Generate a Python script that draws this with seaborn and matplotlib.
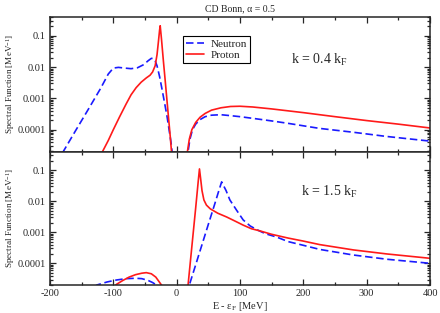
import numpy as np
import pandas as pd
import seaborn as sns
import matplotlib
matplotlib.use("Agg")
import matplotlib.pyplot as plt
from matplotlib.ticker import FixedLocator, MultipleLocator, LogLocator, NullFormatter

# ---- data (E - eF in MeV, spectral function in MeV^-1) ----
# k = 0.4 kF
top_n_hole_E = [-190, -179, -160, -140, -120, -108, -100, -92, -82, -72, -62, -52, -45, -40, -37,
                -34, -31, -27, -23, -19, -15, -12, -9, -6]
top_n_hole_A = [9e-6, 2e-5, 9e-5, 4.3e-4, 2.1e-3, 6e-3, 9.3e-3, 9.8e-3, 9.3e-3, 8.9e-3, 9.5e-3,
                0.012, 0.016, 0.019, 0.019, 0.016, 0.011, 0.005, 1.9e-3, 7e-4, 2.5e-4, 1e-4, 4e-5, 1.2e-5]
top_p_hole_E = [-122, -117, -108, -100, -90, -80, -72, -64, -56, -48, -42, -38, -34, -31, -29,
                -27, -26, -24, -21, -18, -15.5, -13, -10, -7]
top_p_hole_A = [1e-5, 2e-5, 4.5e-5, 1e-4, 2.6e-4, 6.5e-4, 1.3e-3, 2.2e-3, 3.3e-3, 4.5e-3, 5.5e-3,
                7e-3, 0.011, 0.025, 0.06, 0.15, 0.21, 0.08, 0.016, 3.5e-3, 9.5e-4, 2.6e-4, 5.6e-5, 1e-5]
top_n_part_E = [16, 18, 21, 25, 30, 37, 45, 55, 70, 85, 100, 120, 150, 175, 225, 280, 330, 400]
top_n_part_A = [1e-5, 2e-5, 5e-5, 1e-4, 1.5e-4, 2.1e-4, 2.6e-4, 2.9e-4, 3e-4, 2.8e-4, 2.6e-4,
                2.3e-4, 1.9e-4, 1.6e-4, 1.1e-4, 8.2e-5, 6.1e-5, 4.3e-5]
top_p_part_E = [15, 17, 20, 24, 30, 37, 45, 55, 70, 85, 100, 120, 150, 200, 250, 300, 350, 400]
top_p_part_A = [1e-5, 2e-5, 5e-5, 1e-4, 1.7e-4, 2.5e-4, 3.3e-4, 4.2e-4, 5e-4, 5.5e-4, 5.6e-4,
                5.3e-4, 4.6e-4, 3.5e-4, 2.6e-4, 1.95e-4, 1.5e-4, 1.13e-4]

# k = 1.5 kF
bot_n_hole_E = [-130, -126, -110, -95, -80, -65, -55, -45, -38, -32, -28]
bot_n_hole_A = [1.7e-5, 2e-5, 2.5e-5, 2.9e-5, 3.2e-5, 3.3e-5, 3.2e-5, 2.8e-5, 2.4e-5, 2e-5, 1.6e-5]
bot_p_hole_E = [-100, -95, -85, -75, -65, -55, -48, -40, -33, -28, -24, -22]
bot_p_hole_A = [1.6e-5, 2.1e-5, 2.8e-5, 3.6e-5, 4.3e-5, 4.8e-5, 5e-5, 4.6e-5, 3.6e-5, 2.6e-5, 2e-5, 1.5e-5]
bot_n_part_E = [17, 20, 30, 40, 50, 60, 66, 71, 78, 84, 95, 105, 116, 127, 140, 158, 176, 200,
                226, 279, 332, 400]
bot_n_part_A = [1e-5, 2e-5, 8.9e-5, 4e-4, 1.8e-3, 8e-3, 0.02, 0.042, 0.022, 0.011, 5e-3, 2.5e-3,
                1.6e-3, 1.2e-3, 9e-4, 7e-4, 5e-4, 3.8e-4, 2.8e-4, 1.85e-4, 1.35e-4, 1e-4]
bot_p_part_E = [15, 18, 22, 26, 30, 34, 36, 38, 40, 43, 47, 53, 65, 79, 92, 105, 118, 132, 150,
                176, 200, 226, 279, 332, 400]
bot_p_part_A = [1e-5, 2e-5, 1.35e-4, 9e-4, 6e-3, 0.043, 0.11, 0.05, 0.022, 0.011, 7.5e-3, 5.7e-3,
                4.1e-3, 3.1e-3, 2.3e-3, 1.7e-3, 1.3e-3, 1.1e-3, 8.6e-4, 6.5e-4, 5.2e-4, 4e-4,
                2.7e-4, 2e-4, 1.45e-4]

panels = [
    ("k = 0.4 k$_\\mathrm{F}$", [("Neutron", "hole", top_n_hole_E, top_n_hole_A),
                                 ("Neutron", "part", top_n_part_E, top_n_part_A),
                                 ("Proton", "hole", top_p_hole_E, top_p_hole_A),
                                 ("Proton", "part", top_p_part_E, top_p_part_A)]),
    ("k = 1.5 k$_\\mathrm{F}$", [("Neutron", "hole", bot_n_hole_E, bot_n_hole_A),
                                 ("Neutron", "part", bot_n_part_E, bot_n_part_A),
                                 ("Proton", "hole", bot_p_hole_E, bot_p_hole_A),
                                 ("Proton", "part", bot_p_part_E, bot_p_part_A)]),
]

sns.set_style("ticks")
plt.rcParams["font.family"] = ["Liberation Serif", "DejaVu Serif"]
plt.rcParams["mathtext.fontset"] = "custom"
plt.rcParams["mathtext.rm"] = "Liberation Serif"
plt.rcParams["mathtext.it"] = "Liberation Serif:italic"
plt.rcParams["axes.unicode_minus"] = False

fig = plt.figure(figsize=(4.4, 3.13), dpi=100)
ax_top = fig.add_axes([50 / 440, 1 - 151.5 / 313, 380 / 440, 134.5 / 313])
ax_bot = fig.add_axes([50 / 440, 1 - 285 / 313, 380 / 440, 133.5 / 313], sharex=ax_top)

for i, (ax, (ktext, segs)) in enumerate(zip([ax_top, ax_bot], panels)):
    rows = []
    for nuc, br, E, A in segs:
        for e, a in zip(E, A):
            rows.append({"E": e, "A": a, "nucleon": nuc, "branch": br})
    df = pd.DataFrame(rows)
    sns.lineplot(data=df, x="E", y="A", hue="nucleon", style="nucleon", units="branch",
                 estimator=None, sort=False, hue_order=["Neutron", "Proton"],
                 style_order=["Neutron", "Proton"],
                 palette={"Neutron": "#1a1aff", "Proton": "#ff1a1a"},
                 dashes={"Neutron": (4.5, 2.2), "Proton": ""},
                 linewidth=1.2, ax=ax, legend=(i == 0))
    ax.set_yscale("log")
    ax.set_xlim(-200, 400)
    ax.set_ylim(2e-5, 0.4)
    ax.yaxis.set_major_locator(FixedLocator([1e-4, 1e-3, 1e-2, 1e-1]))
    ax.set_yticklabels(["0.0001", "0.001", "0.01", "0.1"])
    ax.yaxis.set_minor_locator(LogLocator(base=10, subs=np.arange(2, 10), numticks=20))
    ax.yaxis.set_minor_formatter(NullFormatter())
    ax.xaxis.set_major_locator(MultipleLocator(100))
    ax.xaxis.set_minor_locator(MultipleLocator(50))
    ax.tick_params(which="both", direction="in", top=True, right=True, labelsize=7.5,
                   width=0.9, pad=3)
    ax.tick_params(which="major", length=4)
    ax.tick_params(which="minor", length=2)
    for sp in ax.spines.values():
        sp.set_linewidth(1.1)
    ax.set_ylabel("Spectral Function [MeV$^{-1}$]", fontsize=6.6)
    ax.yaxis.set_label_coords(-0.088, 0.5)
    ax.text(0.71 if i == 0 else 0.735, 0.68 if i == 0 else 0.70, ktext, transform=ax.transAxes,
            fontsize=10, ha="center", va="center")

ax_top.tick_params(labelbottom=False)
ax_top.set_xlabel("")
ax_top.legend(loc="upper left", bbox_to_anchor=(0.35, 0.86), fontsize=8, frameon=True,
              fancybox=False, edgecolor="black", framealpha=1, handlelength=1.6,
              borderpad=0.3, labelspacing=0.1, handletextpad=0.6, borderaxespad=0)
ax_top.get_legend().get_frame().set_linewidth(0.8)
ax_top.set_title("CD Bonn, α = 0.5", fontsize=7, pad=4)
ax_bot.set_xlabel("E - ε$_\\mathrm{F}$ [MeV]", fontsize=7.5, labelpad=1)

fig.savefig("out.png", dpi=100)
